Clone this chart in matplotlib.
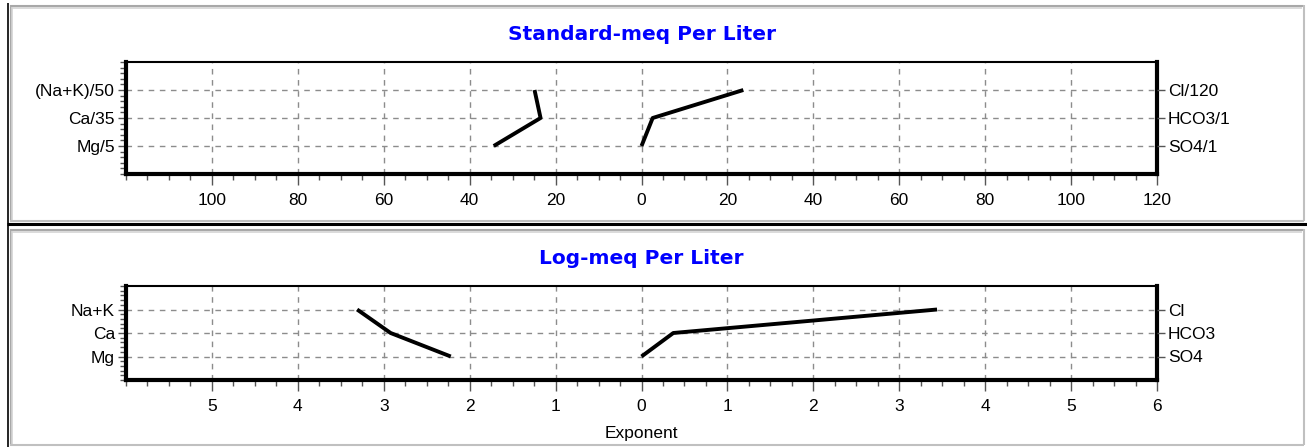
import matplotlib
matplotlib.use("Agg")
import matplotlib.pyplot as plt
from matplotlib.lines import Line2D
from matplotlib.ticker import FixedLocator, MultipleLocator, FuncFormatter

W, H = 1307, 447

# Stiff diagram values (cations on the left, anions on the right)
std_cation_labels = ["Mg/5", "Ca/35", "(Na+K)/50"]
std_anion_labels = ["SO4/1", "HCO3/1", "Cl/120"]
std_cations = [34.4, 23.5, 24.9]
std_anions = [0.0, 2.6, 23.7]

log_cation_labels = ["Mg", "Ca", "Na+K"]
log_anion_labels = ["SO4", "HCO3", "Cl"]
log_cations = [2.22, 2.92, 3.31]
log_anions = [0.0, 0.37, 3.44]

rows = [1, 2, 3]

plt.rcParams["font.family"] = ["Liberation Sans", "DejaVu Sans"]

fig = plt.figure(figsize=(W / 100, H / 100), dpi=100)
fig.patch.set_facecolor("white")


def fx(px):
    return px / W


def fy(py):
    return 1 - py / H


def frame_line(x0, y0, x1, y1, color, lw):
    fig.add_artist(Line2D([fx(x0), fx(x1)], [fy(y0), fy(y1)], color=color,
                          lw=lw, transform=fig.transFigure, solid_capstyle="butt"))


# window-style panel borders
frame_line(7.5, 3, 7.5, H, "black", 1.2)
frame_line(7, 224, W, 224, "black", 2.2)
for top, bottom in [(5, 221), (229, 445)]:
    frame_line(10, top + 1, W - 3, top + 1, "#a8a8a8", 1.5)
    frame_line(12, top + 3, W - 5, top + 3, "#d4d4d4", 1.2)
    frame_line(10.5, top, 10.5, bottom, "#a8a8a8", 1.5)
    frame_line(12.5, top + 2, 12.5, bottom, "#d4d4d4", 1.2)
    frame_line(W - 3, top, W - 3, bottom, "#c0c0c0", 1.5)
    frame_line(10, bottom, W - 3, bottom, "#c0c0c0", 1.5)


def stiff_panel(rect, title, xmax, major, minor, cations, anions,
                left_labels, right_labels, xlabel=None):
    ax = fig.add_axes(rect)
    ax.set_xlim(-xmax, xmax)
    ax.set_ylim(0, 4)

    ax.plot([-v for v in cations], rows, color="black", lw=2.8,
            solid_capstyle="butt", zorder=3)
    ax.plot(anions, rows, color="black", lw=2.8,
            solid_capstyle="butt", zorder=3)

    ticks = [t * major for t in range(-int(xmax / major) + 1, int(xmax / major) + 1)]
    ax.xaxis.set_major_locator(FixedLocator(ticks))
    ax.xaxis.set_minor_locator(MultipleLocator(minor))
    ax.xaxis.set_major_formatter(FuncFormatter(lambda v, p: f"{abs(v):g}"))
    ax.yaxis.set_major_locator(FixedLocator(rows))
    ax.yaxis.set_minor_locator(MultipleLocator(0.2))
    ax.set_yticklabels(left_labels)

    ax.grid(True, which="major", color="#8c8c8c", ls=(0, (4, 4)), lw=1.0)
    ax.tick_params(axis="x", which="major", length=8, width=1, pad=6,
                   labelsize=12.5, color="#555555")
    ax.tick_params(axis="x", which="minor", length=4, width=1, color="#555555")
    ax.tick_params(axis="y", which="both", left=True, right=True,
                   labelleft=True, labelright=False, color="#555555")
    ax.tick_params(axis="y", which="major", length=6, width=1, pad=2,
                   labelsize=12.5)
    ax.tick_params(axis="y", which="minor", length=4, width=1)

    ax.spines["top"].set_linewidth(1.5)
    for side in ["left", "right", "bottom"]:
        ax.spines[side].set_linewidth(3)

    # right-hand labels for the anions
    ax2 = ax.twinx()
    ax2.set_ylim(0, 4)
    ax2.yaxis.set_major_locator(FixedLocator(rows))
    ax2.set_yticklabels(right_labels)
    ax2.tick_params(axis="y", which="major", length=6, width=1, pad=2,
                    labelsize=12.5, color="#555555")
    ax2.tick_params(axis="y", which="minor", right=False)
    for side in ax2.spines:
        ax2.spines[side].set_visible(False)

    ax.set_title(title, color="#0000ff", fontsize=14.5, fontweight="bold",
                 family="DejaVu Sans", pad=16)
    if xlabel:
        ax.set_xlabel(xlabel, fontsize=12.5, labelpad=8)
    return ax


stiff_panel([fx(126), fy(174), fx(1157) - fx(126), fy(62) - fy(174)],
            "Standard-meq Per Liter", 120, 20, 5, std_cations, std_anions,
            std_cation_labels, std_anion_labels)

stiff_panel([fx(126), fy(380), fx(1157) - fx(126), fy(286) - fy(380)],
            "Log-meq Per Liter", 6, 1, 0.25, log_cations, log_anions,
            log_cation_labels, log_anion_labels, xlabel="Exponent")

fig.savefig("out.png", dpi=100)
